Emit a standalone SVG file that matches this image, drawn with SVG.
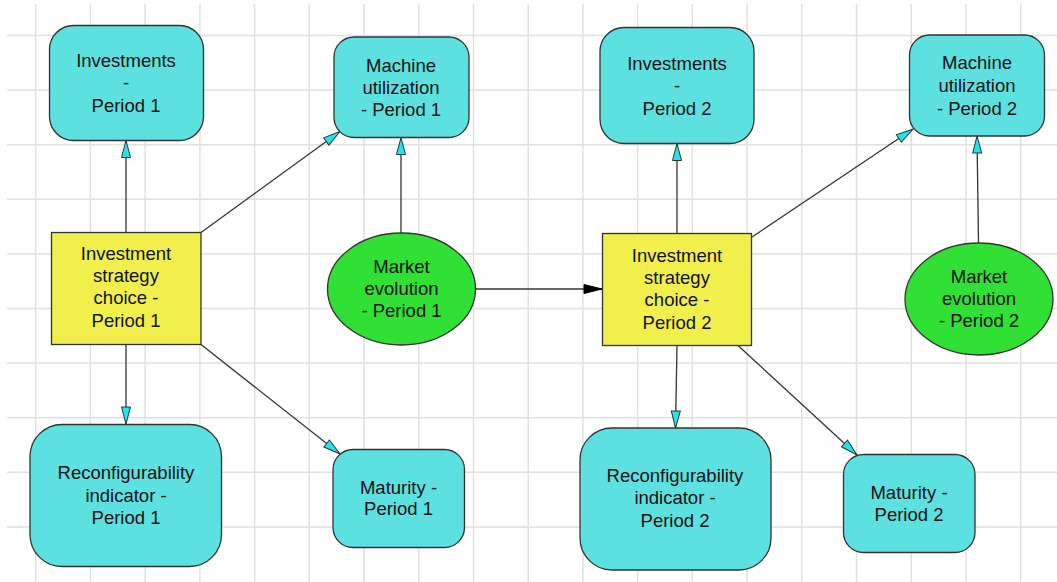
<svg xmlns="http://www.w3.org/2000/svg" width="1057" height="582" viewBox="0 0 1057 582">
<style>
.grid{stroke:#e0e0e0;stroke-width:1.5;fill:none}
.cyan{fill:#5ce1e0;stroke:#333;stroke-width:1.3}
.yellow{fill:#f0ef4c;stroke:#333;stroke-width:1.3}
.green{fill:#30e034;stroke:#333;stroke-width:1.3}
.lbl{font-family:"Liberation Sans",Arial,sans-serif;font-size:18.5px;fill:#111;text-anchor:middle}
.edge{stroke:#333;stroke-width:1.3;fill:none}
</style>
<defs>
<marker id="ac" markerUnits="userSpaceOnUse" markerWidth="20" markerHeight="12" viewBox="0 0 20 12" refX="18" refY="6" orient="auto">
<path d="M1,1.5 L18,6 L1,10.5 Z" fill="#1fe6ee" stroke="#333" stroke-width="1"/>
</marker>
<marker id="ab" markerUnits="userSpaceOnUse" markerWidth="20" markerHeight="12" viewBox="0 0 20 12" refX="19" refY="6" orient="auto">
<path d="M1,1.5 L19,6 L1,10.5 Z" fill="#000" stroke="#000" stroke-width="1"/>
</marker>
</defs>
<rect width="1057" height="582" fill="#fff"/>
<path class="grid" d="M35.7,4V582M90.4,4V582M145.1,4V582M199.9,4V582M254.6,4V582M309.3,4V582M364,4V582M418.7,4V582M473.5,4V582M528.2,4V582M582.9,4V582M637.6,4V582M692.3,4V582M747.1,4V582M801.8,4V582M856.5,4V582M911.2,4V582M965.9,4V582M1020.7,4V582M7,35.5H1057M7,90.1H1057M7,144.7H1057M7,199.3H1057M7,253.9H1057M7,308.5H1057M7,363.1H1057M7,417.7H1057M7,472.3H1057M7,526.9H1057"/>
<g id="connectors">
<line class="edge" x1="126" y1="232.5" x2="126" y2="140.5" marker-end="url(#ac)"/>
<line class="edge" x1="201" y1="232.5" x2="340" y2="131.5" marker-end="url(#ac)"/>
<line class="edge" x1="126" y1="344.5" x2="126" y2="424" marker-end="url(#ac)"/>
<line class="edge" x1="201" y1="344.5" x2="340" y2="454" marker-end="url(#ac)"/>
<line class="edge" x1="401" y1="233" x2="401" y2="137.5" marker-end="url(#ac)"/>
<line class="edge" x1="476" y1="289" x2="602" y2="289" marker-end="url(#ab)"/>
<line class="edge" x1="677" y1="233" x2="677" y2="143.5" marker-end="url(#ac)"/>
<line class="edge" x1="752" y1="237" x2="913" y2="129" marker-end="url(#ac)"/>
<line class="edge" x1="677" y1="345.5" x2="675.5" y2="428" marker-end="url(#ac)"/>
<line class="edge" x1="738" y1="345.5" x2="857" y2="455" marker-end="url(#ac)"/>
<line class="edge" x1="978.5" y1="243" x2="977" y2="136" marker-end="url(#ac)"/>
</g>
<g id="investments1">
<rect class="cyan" x="49.5" y="25.5" width="154" height="115" rx="24"/>
<text class="lbl" x="126" y="67">Investments</text>
<text class="lbl" x="126" y="89">-</text>
<text class="lbl" x="126" y="111.5">Period 1</text>
</g>
<g id="machine1">
<rect class="cyan" x="334" y="37" width="135" height="100.5" rx="20"/>
<text class="lbl" x="401" y="71.5">Machine</text>
<text class="lbl" x="401" y="93.5">utilization</text>
<text class="lbl" x="401" y="116">- Period 1</text>
</g>
<g id="strategy1">
<rect class="yellow" x="51.5" y="232.5" width="149.5" height="112"/>
<text class="lbl" x="126" y="260">Investment</text>
<text class="lbl" x="126" y="282">strategy</text>
<text class="lbl" x="126" y="304">choice -</text>
<text class="lbl" x="126" y="327">Period 1</text>
</g>
<g id="market1">
<ellipse class="green" cx="401.5" cy="289" rx="74" ry="56"/>
<text class="lbl" x="401.5" y="272.5">Market</text>
<text class="lbl" x="401.5" y="294.5">evolution</text>
<text class="lbl" x="401.5" y="316.5">- Period 1</text>
</g>
<g id="reconfig1">
<rect class="cyan" x="30" y="424.5" width="191.5" height="142" rx="32"/>
<text class="lbl" x="126" y="479">Reconfigurability</text>
<text class="lbl" x="126" y="501.5">indicator -</text>
<text class="lbl" x="126" y="524">Period 1</text>
</g>
<g id="maturity1">
<rect class="cyan" x="333" y="449.5" width="131.5" height="98" rx="20"/>
<text class="lbl" x="398.5" y="493.5">Maturity -</text>
<text class="lbl" x="398.5" y="515">Period 1</text>
</g>
<g id="investments2">
<rect class="cyan" x="600" y="27.5" width="154" height="116" rx="24"/>
<text class="lbl" x="677" y="70">Investments</text>
<text class="lbl" x="677" y="92">-</text>
<text class="lbl" x="677" y="114.5">Period 2</text>
</g>
<g id="machine2">
<rect class="cyan" x="909.5" y="35" width="135" height="101" rx="20"/>
<text class="lbl" x="977" y="69">Machine</text>
<text class="lbl" x="977" y="92">utilization</text>
<text class="lbl" x="977" y="114.5">- Period 2</text>
</g>
<g id="strategy2">
<rect class="yellow" x="602.5" y="233.5" width="149" height="112"/>
<text class="lbl" x="677" y="261.5">Investment</text>
<text class="lbl" x="677" y="283.5">strategy</text>
<text class="lbl" x="677" y="306">choice -</text>
<text class="lbl" x="677" y="329">Period 2</text>
</g>
<g id="market2">
<ellipse class="green" cx="979" cy="299" rx="74" ry="56"/>
<text class="lbl" x="979" y="282.5">Market</text>
<text class="lbl" x="979" y="304.5">evolution</text>
<text class="lbl" x="979" y="326.5">- Period 2</text>
</g>
<g id="reconfig2">
<rect class="cyan" x="580" y="428" width="191" height="142" rx="32"/>
<text class="lbl" x="675" y="482">Reconfigurability</text>
<text class="lbl" x="675" y="504">indicator -</text>
<text class="lbl" x="675" y="526.5">Period 2</text>
</g>
<g id="maturity2">
<rect class="cyan" x="843.5" y="454.5" width="131.5" height="98" rx="20"/>
<text class="lbl" x="909" y="498.5">Maturity -</text>
<text class="lbl" x="909" y="520.5">Period 2</text>
</g>
</svg>
